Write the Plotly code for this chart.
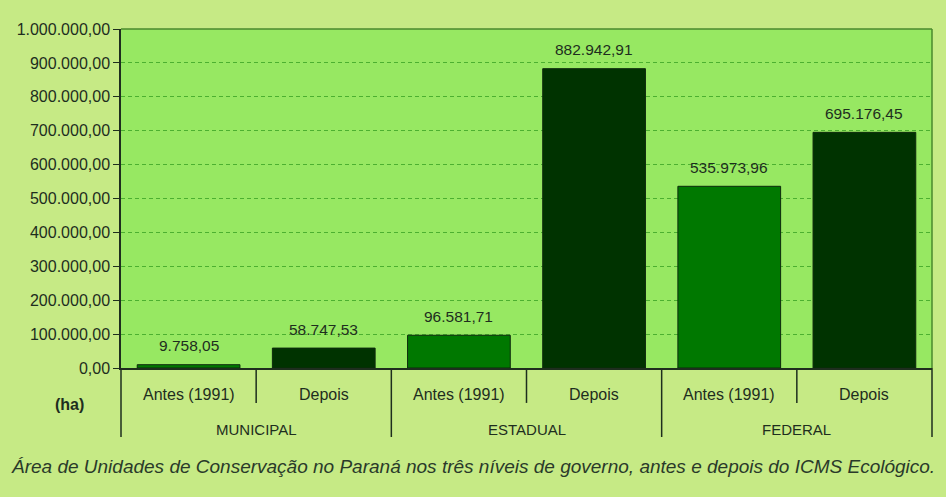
import plotly.graph_objects as go

levels = ["MUNICIPAL", "MUNICIPAL", "ESTADUAL", "ESTADUAL", "FEDERAL", "FEDERAL"]
periods = ["Antes (1991)", "Depois", "Antes (1991)", "Depois", "Antes (1991)", "Depois"]
area_ha = [9758.05, 58747.53, 96581.71, 882942.91, 535973.96, 695176.45]
period_colors = {"Antes (1991)": "#007800", "Depois": "#003300"}
y_ticks = [0, 100000, 200000, 300000, 400000, 500000, 600000, 700000, 800000, 900000, 1000000]
caption = "Área de Unidades de Conservação no Paraná nos três níveis de governo, antes e depois do ICMS Ecológico."
unit_label = "(ha)"

FONT = "Liberation Sans, Arial, sans-serif"
TXT = "#1e2e1e"
LINE = "#1e2e1e"

def fmt_br(v):
    s = f"{v:,.2f}"
    return s.replace(",", "X").replace(".", ",").replace("X", ".")

fig = go.Figure()
fig.add_trace(go.Bar(
    x=[levels, periods],
    y=area_ha,
    marker=dict(color=[period_colors[p] for p in periods],
                line=dict(color="#0d2a0d", width=1)),
    width=0.76,
    hoverinfo="skip",
))

n = len(area_ha)
ROW1_Y, ROW2_Y = -0.077, -0.18
INNER_END, OUTER_END = -0.103, -0.2035

def label(text, x, y, size, color=TXT):
    fig.add_annotation(text=text, xref="paper", yref="paper", x=x, y=y,
                       xanchor="center", yanchor="middle", showarrow=False,
                       font=dict(family=FONT, size=size, color=color))

# value labels above bars
for i, v in enumerate(area_ha):
    fig.add_annotation(text=fmt_br(v), xref="paper", yref="y", x=(i + 0.5) / n, y=v,
                       xanchor="center", yanchor="middle", yshift=19, showarrow=False,
                       font=dict(family=FONT, size=15.5, color=TXT))

# period labels (row 1)
for i, p in enumerate(periods):
    label(p, (i + 0.5) / n, ROW1_Y, 16)
# level labels (row 2) and dividers
groups = []
for i, lv in enumerate(levels):
    if not groups or groups[-1][0] != lv:
        groups.append([lv, i, i])
    else:
        groups[-1][2] = i
for lv, a, b in groups:
    label(lv, (a + b + 1) / 2 / n, ROW2_Y, 15)
for i in range(n + 1):
    outer = i == 0 or i == n or levels[i - 1] != levels[i]
    xp = i / n
    fig.add_shape(type="line", xref="paper", yref="paper",
                  x0=xp, x1=xp, y0=0, y1=OUTER_END if outer else INNER_END,
                  line=dict(color=LINE, width=1.5))

label("<b>" + unit_label + "</b>", -0.063, -0.109, 16)
label("<i>" + caption + "</i>", 0.434, -0.292, 19, "#2a3a2a")

fig.update_layout(
    width=946, height=497,
    margin=dict(l=121, r=14, t=29, b=129, autoexpand=False),
    paper_bgcolor="#c6ea85",
    plot_bgcolor="#97e862",
    separators=",.",
    showlegend=False,
    font=dict(family=FONT, size=16, color=TXT),
)
fig.update_yaxes(
    range=[0, 1000000],
    tickvals=y_ticks,
    tickformat=",.2f",
    automargin=False,
    showgrid=True, gridcolor="#4cb030", griddash="4px,3px", gridwidth=1,
    showline=True, linecolor=LINE, linewidth=1.5,
    ticks="outside", ticklen=6, tickcolor=LINE,
    tickfont=dict(family=FONT, size=16, color=TXT),
    zeroline=False,
)
fig.update_xaxes(
    type="multicategory",
    automargin=False,
    showticklabels=False,
    showdividers=False,
    showline=True, linecolor=LINE, linewidth=1.5,
)
# top and right frame of plot area
fig.add_shape(type="line", xref="paper", yref="paper", x0=0, x1=1, y0=1, y1=1,
              line=dict(color="#4a8a2e", width=1.5))
fig.add_shape(type="line", xref="paper", yref="paper", x0=1, x1=1, y0=0, y1=1,
              line=dict(color="#4a8a2e", width=1.5))

fig.write_html("out.html", config={"displayModeBar": False},
               post_script="document.body.style.margin='0';")
